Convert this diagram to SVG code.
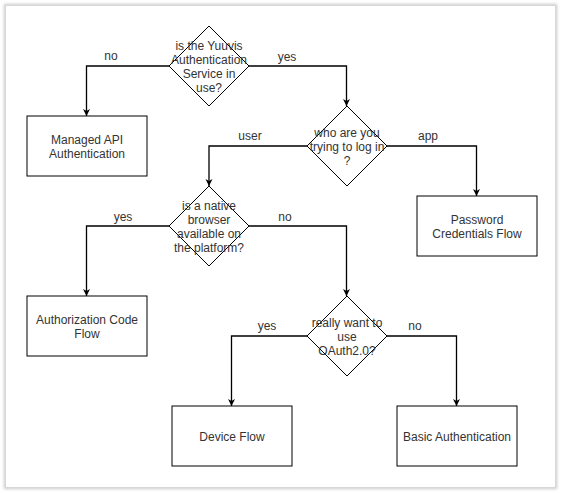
<svg xmlns="http://www.w3.org/2000/svg" width="563" height="493" viewBox="0 0 563 493">
<defs>
<filter id="sh" x="-5%" y="-5%" width="110%" height="110%"><feGaussianBlur stdDeviation="1.5"/></filter>
<marker id="arr" viewBox="0 0 10 10" refX="10" refY="5" markerWidth="7" markerHeight="8" markerUnits="userSpaceOnUse" orient="auto"><path d="M0,0 L10,5 L0,10 L3,5 z" fill="#000"/></marker>
</defs>
<style>
.node{fill:#fff;stroke:#000;stroke-width:1}
.t{font-family:"Liberation Sans",Arial,sans-serif;font-size:12px;fill:#333;text-anchor:middle}
.e{fill:none;stroke:#000;stroke-width:1.3}
</style>
<rect width="563" height="493" fill="#fff"/>
<rect x="5.5" y="5.5" width="550" height="482" fill="none" stroke="#c8c8c8" stroke-width="3" filter="url(#sh)"/>
<rect x="6" y="6" width="549" height="481" fill="#fff"/>
<g id="connectors">
<path class="e" d="M169,66 H86.5 V116" marker-end="url(#arr)"/>
<path class="e" d="M249,66 H346.5 V106" marker-end="url(#arr)"/>
<path class="e" d="M307,146 H209 V186" marker-end="url(#arr)"/>
<path class="e" d="M387,146 H476.5 V196" marker-end="url(#arr)"/>
<path class="e" d="M169,226 H86.5 V296" marker-end="url(#arr)"/>
<path class="e" d="M249,226 H346.5 V296" marker-end="url(#arr)"/>
<path class="e" d="M307,336 H231.5 V406" marker-end="url(#arr)"/>
<path class="e" d="M387,336 H456.5 V406" marker-end="url(#arr)"/>
<text class="t" x="111" y="60">no</text>
<text class="t" x="287" y="61">yes</text>
<text class="t" x="250" y="140">user</text>
<text class="t" x="428" y="140">app</text>
<text class="t" x="123" y="221">yes</text>
<text class="t" x="285" y="221">no</text>
<text class="t" x="267" y="330">yes</text>
<text class="t" x="415" y="330">no</text>
</g>
<g id="d1"><path class="node" d="M209,26 L249,66 L209,106 L169,66 Z"/>
<text class="t"><tspan x="209" y="50">is the Yuuvis</tspan><tspan x="209" y="64">Authentication</tspan><tspan x="209" y="78">Service in</tspan><tspan x="209" y="92">use?</tspan></text></g>
<g id="n-managed"><rect class="node" x="27" y="116" width="120" height="60"/>
<text class="t"><tspan x="87" y="144">Managed API</tspan><tspan x="87" y="158">Authentication</tspan></text></g>
<g id="d2"><path class="node" d="M347,106 L387,146 L347,186 L307,146 Z"/>
<text class="t"><tspan x="347" y="137">who are you</tspan><tspan x="347" y="151">trying to log in</tspan><tspan x="347" y="165">?</tspan></text></g>
<g id="n-password"><rect class="node" x="417" y="196" width="120" height="60"/>
<text class="t"><tspan x="477" y="224">Password</tspan><tspan x="477" y="238">Credentials Flow</tspan></text></g>
<g id="d3"><path class="node" d="M209,186 L249,226 L209,266 L169,226 Z"/>
<text class="t"><tspan x="209" y="210">is a native</tspan><tspan x="209" y="224">browser</tspan><tspan x="209" y="238">available on</tspan><tspan x="209" y="252">the platform?</tspan></text></g>
<g id="n-authcode"><rect class="node" x="27" y="296" width="120" height="60"/>
<text class="t"><tspan x="87" y="324">Authorization Code</tspan><tspan x="87" y="338">Flow</tspan></text></g>
<g id="d4"><path class="node" d="M347,296 L387,336 L347,376 L307,336 Z"/>
<text class="t"><tspan x="347" y="327">really want to</tspan><tspan x="347" y="341">use</tspan><tspan x="347" y="355">OAuth2.0?</tspan></text></g>
<g id="n-device"><rect class="node" x="172" y="406" width="120" height="60"/>
<text class="t" x="232" y="441">Device Flow</text></g>
<g id="n-basic"><rect class="node" x="397" y="406" width="120" height="60"/>
<text class="t" x="457" y="441">Basic Authentication</text></g>
</svg>
